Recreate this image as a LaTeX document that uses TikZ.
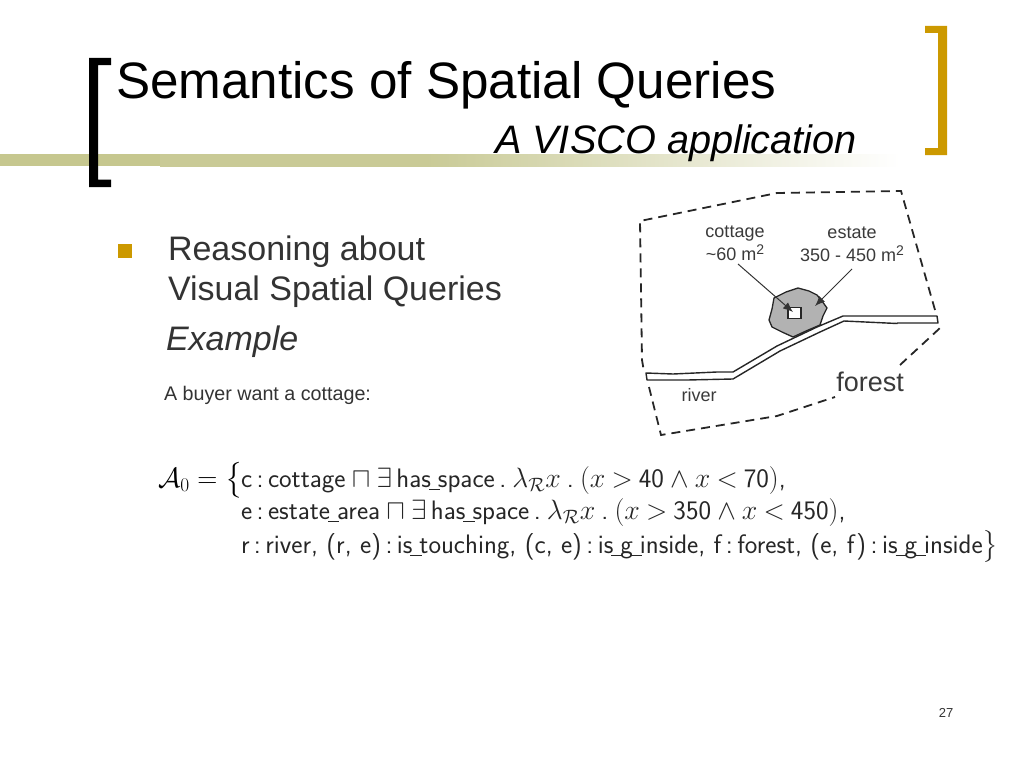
\documentclass[tikz,border=0pt]{standalone}
\usepackage{fontspec}
\usepackage{amssymb}
\usepackage{amsmath}
\setmainfont{Liberation Sans}
\newfontfamily\lmsf{Latin Modern Sans}
\usetikzlibrary{arrows.meta}
\definecolor{gold}{HTML}{CC9900}
\definecolor{band}{HTML}{C6C78F}
\definecolor{bandb}{HTML}{C9CA96}
\definecolor{bodytxt}{HTML}{333333}
\definecolor{figtxt}{HTML}{3A3A3A}
\pgfdeclarehorizontalshading{bandfade}{100bp}{color(0bp)=(bandb);color(43bp)=(bandb);color(75bp)=(white);color(100bp)=(white)}
\newcommand{\us}{\kern-.08em\rule[-.13em]{.42em}{.07em}\kern-.08em}
\newcommand{\sqm}{m\raisebox{.3em}{\fontsize{14}{14}\selectfont 2}}
\newcommand{\mm}[1]{\scalebox{1.12}{$#1$}}
\newcommand{\gap}{\kern.23em}
\tikzset{
  x=1pt,y=-1pt,
  lbl/.style={anchor=base west,inner sep=0pt,outer sep=0pt},
  bodyl/.style={lbl,text=bodytxt,font=\fontsize{34}{34}\selectfont},
  figl/.style={inner sep=0pt,text=figtxt,font=\fontsize{18}{18}\selectfont,anchor=base,align=center},
  forml/.style={lbl,text=black!85,font=\lmsf\fontsize{26.7}{26.7}\selectfont},
  dashb/.style={line width=1.8pt,dash pattern=on 9pt off 6pt,draw=black!85},
  riverl/.style={line width=1.4pt,draw=black!85,fill=white,line join=round},
  ptr/.style={line width=1pt,draw=black!80,-{Latex[length=10pt,width=8pt]}}
}
\begin{document}
\begin{tikzpicture}
\useasboundingbox (0,0) rectangle (1024,768);
\fill[band] (0,154) rectangle (160,166);
\shade[shading=bandfade] (160,154) rectangle (900,166);
\fill[black] (89,58) -- (111,58) -- (111,65) -- (98,65) -- (98,179.5) -- (111,179.5) -- (111,187) -- (89,187) -- cycle;
\fill[gold] (925,26) -- (947,26) -- (947,155) -- (925,155) -- (925,148) -- (938,148) -- (938,33) -- (925,33) -- cycle;
\node[lbl,font=\fontsize{51.2}{51.2}\selectfont] (title) at (116,98) {Semantics of Spatial Queries};
\node[lbl,font=\itshape\fontsize{39.7}{39.7}\selectfont] (sub) at (495,153) {A VISCO application};
\fill[gold] (118,244) rectangle (132,258);
\node[bodyl] (r1) at (168,260) {Reasoning about};
\node[bodyl] (r2) at (168,300) {Visual Spatial Queries};
\node[bodyl,font=\itshape\fontsize{34}{34}\selectfont] (ex) at (166,350) {Example};
\node[lbl,text=bodytxt,font=\fontsize{19.7}{19.7}\selectfont] (buyer) at (164,400) {A buyer want a cottage:};
% figure
\draw[dashb] (935,310) -- (901,191) -- (777,193) -- (640,221) -- (642,360) -- (644,372);
\draw[dashb] (649,387) -- (661,435) -- (777,416) -- (835,397);
\draw[dashb] (900,365) -- (940,328);
\draw[line width=1.3pt,draw=black!85,fill=black!30,line join=round]
  (774,298) -- (786,292) -- (798,288) -- (809,291) -- (817,295) -- (822,301) -- (827,308) -- (823,316) -- (820,325) -- (806,331) -- (793,337) -- (782,332) -- (772,327) -- (769,320) -- (772,309) -- cycle;
\draw[riverl] (646,373) -- (673,374) -- (717,372) -- (733,372) -- (777,346) -- (817,327) -- (843,316) -- (937,316) -- (938,323) -- (897,323) -- (897,323.5) -- (844,321) -- (820,332) -- (780,351) -- (733,379) -- (687,380) -- (647,380) -- cycle;
\node[draw=black!85,line width=1.4pt,fill=white,inner sep=0pt,minimum width=13pt,minimum height=11pt] (cot) at (794.5,313) {};
\node[figl] (lc) at (735,237) {cottage};
\node[figl] (lc2) at (735,260) {\textasciitilde 60 \sqm};
\node[figl] (le) at (852,238) {estate};
\node[figl] (le2) at (852,261) {350 - 450 \sqm};
\node[figl] (riv) at (699,401) {river};
\node[figl,font=\fontsize{27}{27}\selectfont] (for) at (870,391) {forest};
\coordinate (cs) at (738,264);
\coordinate (ce) at (793,312);
\coordinate (es) at (852,269);
\coordinate (ee) at (815,306);
\draw[ptr] (cs) -- (ce);
\draw[ptr] (es) -- (ee);
% formula
\node[lbl] (f0) at (158,487) {\scalebox{1.12}{\fontsize{26.7}{26.7}\selectfont$\mathcal{A}_0=\bigl\{$}};
\node[forml] (f1) at (241,487) {c\,:\,cottage\gap\mm{\sqcap}\gap\mm{\exists}\,has\us space\,.\gap\mm{\lambda_{\mathcal{R}}x}\gap.\gap\mm{(x}\gap\mm{>}\gap 40\gap\mm{\wedge}\gap\mm{x}\gap\mm{<}\gap 70\mm{)},};
\node[forml] (f2) at (241,519) {e\,:\,estate\us area\gap\mm{\sqcap}\gap\mm{\exists}\,has\us space\,.\gap\mm{\lambda_{\mathcal{R}}x}\gap.\gap\mm{(x}\gap\mm{>}\gap 350\gap\mm{\wedge}\gap\mm{x}\gap\mm{<}\gap 450\mm{)},};
\node[forml] (f3) at (241,553) {r\,:\,river, (r, e)\,:\,is\us touching, (c, e)\,:\,is\us g\us inside, f\,:\,forest, (e, f)\,:\,is\us g\us inside$\bigr\}$};
\node[text=bodytxt,inner sep=0pt,font=\fontsize{13}{13}\selectfont] (pg) at (946,713) {27};
\end{tikzpicture}
\end{document}
